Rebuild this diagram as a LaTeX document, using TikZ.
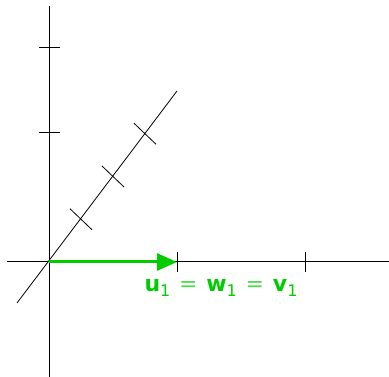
\documentclass[tikz,border=0pt]{standalone}
\usepackage{fontspec}
\setmainfont{DejaVu Sans}
\usetikzlibrary{arrows.meta,calc}
\definecolor{vgreen}{RGB}{0,204,0}
\tikzset{
  axis/.style={line width=1pt, black},
  tick/.style={line width=1pt, black},
  vec/.style={line width=3pt, vgreen, -{Triangle[length=20pt,width=17pt]}},
  lbl/.style={text=vgreen, font=\fontsize{22}{26}\selectfont, inner sep=0pt}
}
\newcommand{\sbone}{\raisebox{-0.35ex}{\fontsize{16}{18}\selectfont 1}}
\newcommand{\eqsym}{\hspace{0.4em}{\color{vgreen!70}=}\hspace{0.4em}}
\begin{document}
\begin{tikzpicture}[x=1pt,y=-1pt]
\useasboundingbox (0,0) rectangle (389,377);
% axes
\coordinate (O) at (49,262);
\coordinate (ytop) at (49,6);
\coordinate (ybot) at (49,377);
\coordinate (xl) at (7,262);
\coordinate (xr) at (389,262);
\coordinate (dl) at (17,303);
\coordinate (dr) at (177,91);
\draw[axis] (ybot) -- (ytop);
\draw[axis] (xl) -- (xr);
\draw[line width=0.8pt] (dl) -- (dr);
% ticks vertical
\draw[tick] (39,47.5) -- (60,47.5);
\draw[tick] (39,133) -- (60,133);
% ticks horizontal
\draw[tick] (177,252) -- (177,272);
\draw[tick] (305,252) -- (305,272);
% ticks diagonal
\foreach \t in {0.25,0.5,0.75}{
  \draw[line width=0.8pt] ($(O)!\t!(dr)+(-11,-10.5)$) -- ($(O)!\t!(dr)+(11,10.5)$);
}
% vector
\coordinate (E) at (177,262);
\draw[vec] (O) -- (E);
\node[lbl] (L) at (221,288) {\textbf{u}\sbone\eqsym\textbf{w}\sbone\eqsym\textbf{v}\sbone};
\end{tikzpicture}
\end{document}
